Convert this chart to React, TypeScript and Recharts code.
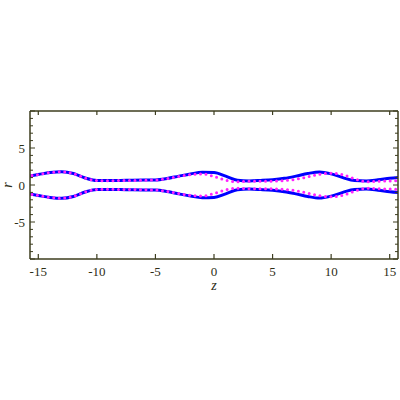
import React from "react";
import { Label, Line, LineChart, XAxis, YAxis } from "recharts";

// radius profile r(z), sampled once per unit of z
const zValues = [
  -16, -15, -14, -13, -12, -11, -10, -9, -8, -7, -6, -5, -4, -3, -2, -1, 0,
  1, 2, 3, 4, 5, 6, 7, 8, 9, 10, 11, 12, 13, 14, 15, 16,
];
const blueUpper = [
  1.15, 1.42, 1.68, 1.8, 1.55, 0.95, 0.6, 0.6, 0.62, 0.64, 0.66, 0.68, 0.88, 1.2, 1.5, 1.72, 1.68,
  1.2, 0.65, 0.55, 0.62, 0.72, 0.9, 1.2, 1.55, 1.77, 1.5, 1.0, 0.6, 0.55, 0.7, 0.9, 1.05,
];
const blueLower = [
  -1.15, -1.42, -1.68, -1.8, -1.55, -0.95, -0.6, -0.6, -0.62, -0.64, -0.66, -0.68, -0.88, -1.2, -1.5, -1.72, -1.68,
  -1.2, -0.65, -0.55, -0.62, -0.72, -0.9, -1.2, -1.55, -1.77, -1.5, -1.0, -0.6, -0.55, -0.7, -0.9, -1.05,
];
const magentaUpper = [
  1.15, 1.42, 1.68, 1.78, 1.55, 0.95, 0.6, 0.58, 0.6, 0.62, 0.64, 0.68, 0.85, 1.15, 1.4, 1.5, 1.15,
  0.65, 0.45, 0.5, 0.5, 0.52, 0.6, 0.78, 1.1, 1.45, 1.6, 1.4, 0.85, 0.45, 0.5, 0.55, 0.58,
];
const magentaLower = [
  -1.15, -1.42, -1.68, -1.78, -1.55, -0.95, -0.6, -0.58, -0.6, -0.62, -0.64, -0.68, -0.85, -1.15, -1.4, -1.5, -1.15,
  -0.65, -0.45, -0.5, -0.5, -0.52, -0.6, -0.78, -1.1, -1.45, -1.6, -1.4, -0.85, -0.45, -0.5, -0.55, -0.58,
];
const xTicks = [-15, -10, -5, 0, 5, 10, 15];
const yTicks = [-10, -9, -8, -7, -6, -5, -4, -3, -2, -1, 0, 1, 2, 3, 4, 5, 6, 7, 8, 9, 10];
const yLabelled = [-5, 0, 5];

const data = zValues.map((z, i) => ({
  z,
  bu: blueUpper[i],
  bl: blueLower[i],
  mu: magentaUpper[i],
  ml: magentaLower[i],
}));

const FRAME = "#3c3c1e";
const INK = "#2e2e16";
const FONT = '"Liberation Serif", "Times New Roman", Times, serif';
const Z_DOMAIN: [number, number] = [-5 * Math.PI, 5 * Math.PI];
const R_DOMAIN: [number, number] = [-10, 10];

// ticks point into the frame, Mathematica style
const BottomTick = ({ x, y, payload }: any) => (
  <g>
    <line x1={x} y1={y} x2={x} y2={y - 5} stroke={FRAME} strokeWidth={1.2} />
    <text x={x} y={y + 17} textAnchor="middle" fontSize={13} fill={INK}>
      {payload.value}
    </text>
  </g>
);

const TopTick = ({ x, y }: any) => (
  <line x1={x} y1={y} x2={x} y2={y + 4} stroke={FRAME} strokeWidth={1.2} />
);

const LeftTick = ({ x, y, payload }: any) => {
  const major = payload.value % 5 === 0;
  return (
    <g>
      <line x1={x} y1={y} x2={x + (major ? 5 : 3)} y2={y} stroke={FRAME} strokeWidth={1} />
      {yLabelled.includes(payload.value) && (
        <text x={x - 5} y={y + 4.5} textAnchor="end" fontSize={13} fill={INK}>
          {payload.value}
        </text>
      )}
    </g>
  );
};

const RightTick = ({ x, y, payload }: any) => {
  const major = payload.value % 5 === 0;
  return <line x1={x} y1={y} x2={x - (major ? 5 : 3)} y2={y} stroke={FRAME} strokeWidth={1} />;
};

const axisLine = { stroke: FRAME, strokeWidth: 1.5 };

export default function App() {
  return (
    <div style={{ position: "absolute", left: 0, top: 0, background: "#fff", fontFamily: FONT }}>
      <LineChart
        width={400}
        height={400}
        data={data}
        margin={{ top: 110, right: 1, bottom: 111, left: 0 }}
        style={{ fontFamily: FONT }}
      >
        <XAxis
          xAxisId="b"
          dataKey="z"
          type="number"
          domain={Z_DOMAIN}
          allowDataOverflow
          ticks={xTicks}
          interval={0}
          height={30}
          tickSize={0}
          tickMargin={0}
          tickLine={false}
          axisLine={axisLine}
          tick={<BottomTick />}
        >
          <Label
            content={({ viewBox }: any) => (
              <text
                x={viewBox.x + viewBox.width / 2}
                y={viewBox.y + 31}
                textAnchor="middle"
                fontStyle="italic"
                fontSize={14}
                fill={INK}
              >
                z
              </text>
            )}
          />
        </XAxis>
        <XAxis
          xAxisId="t"
          dataKey="z"
          orientation="top"
          type="number"
          domain={Z_DOMAIN}
          allowDataOverflow
          ticks={xTicks}
          interval={0}
          height={1}
          tickSize={0}
          tickMargin={0}
          tickLine={false}
          axisLine={axisLine}
          tick={<TopTick />}
        />
        <YAxis
          yAxisId="l"
          type="number"
          domain={R_DOMAIN}
          allowDataOverflow
          ticks={yTicks}
          interval={0}
          width={30}
          tickSize={0}
          tickMargin={0}
          tickLine={false}
          axisLine={axisLine}
          tick={<LeftTick />}
        >
          <Label
            content={({ viewBox }: any) => {
              const cx = viewBox.x + 8;
              const cy = viewBox.y + viewBox.height / 2;
              return (
                <text
                  x={cx}
                  y={cy + 4}
                  transform={`rotate(-90 ${cx} ${cy})`}
                  textAnchor="middle"
                  fontStyle="italic"
                  fontSize={14}
                  fill={INK}
                >
                  r
                </text>
              );
            }}
          />
        </YAxis>
        <YAxis
          yAxisId="r"
          orientation="right"
          type="number"
          domain={R_DOMAIN}
          allowDataOverflow
          ticks={yTicks}
          interval={0}
          width={1}
          tickSize={0}
          tickMargin={0}
          tickLine={false}
          axisLine={axisLine}
          tick={<RightTick />}
        />
        {/* invisible series so the top and right frame axes get drawn */}
        <Line xAxisId="t" yAxisId="r" dataKey="bu" stroke="none" dot={false} legendType="none" isAnimationActive={false} />
        <Line xAxisId="b" yAxisId="l" dataKey="bu" type="monotone" stroke="#0000ff" strokeWidth={3} dot={false} isAnimationActive={false} />
        <Line xAxisId="b" yAxisId="l" dataKey="bl" type="monotone" stroke="#0000ff" strokeWidth={3} dot={false} isAnimationActive={false} />
        <Line
          xAxisId="b"
          yAxisId="l"
          dataKey="mu"
          type="monotone"
          stroke="#ff22ff"
          strokeWidth={3}
          strokeDasharray="0 5.5"
          strokeLinecap="round"
          dot={false}
          isAnimationActive={false}
        />
        <Line
          xAxisId="b"
          yAxisId="l"
          dataKey="ml"
          type="monotone"
          stroke="#ff22ff"
          strokeWidth={3}
          strokeDasharray="0 5.5"
          strokeLinecap="round"
          dot={false}
          isAnimationActive={false}
        />
      </LineChart>
    </div>
  );
}
